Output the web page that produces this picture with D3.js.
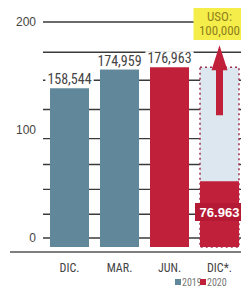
<!DOCTYPE html>
<html>
<head>
<meta charset="utf-8">
<script src="https://cdn.jsdelivr.net/npm/d3@7"></script>
<style>
  body { margin: 0; background: #fff; }
  svg { display: block; }
  text { font-family: "Liberation Sans Narrow", "Roboto Condensed", "Arial Narrow", sans-serif; }
</style>
</head>
<body>
<svg id="chart" width="241" height="292"></svg>
<script>
// data
var categories = ["DIC.", "MAR.", "JUN.", "DIC*."];
var years = ["2019", "2019", "2020", "2020"];
var values = [158.544, 174.959, 176.963, 76.963];
var valueLabels = ["158,544", "174,959", "176,963", "76.963"];
var projectedTotal = 176.963;   // dashed box in DIC*
var usedLabel = ["USO:", "100,000"];
var gridTicks = [0, 22, 45, 68, 92, 119, 146, 172, 200];
var axisLabels = [0, 100, 200];
var legendYears = ["2019", "2020"];

var colors = { "2019": "#61879b", "2020": "#c1203a" };

var svg = d3.select("#chart");
var w = 241, h = 292;
var baseY = 247;

var x = d3.scaleBand()
    .domain(categories)
    .range([45, 244])
    .paddingInner(0.22)
    .paddingOuter(0.1);

// bar scale (bars are clipped at the base line)
var y = d3.scaleLinear().domain([0, 200]).range([269, 41]);
// ruled grid scale
var g = d3.scaleLinear().domain([0, 200]).range([238, 22]);

// grid lines
svg.append("g").selectAll("line")
    .data(gridTicks)
    .enter()
    .append("line")
    .attr("x1", 43)
    .attr("x2", w)
    .attr("y1", function(d) { return g(d); })
    .attr("y2", function(d) { return g(d); })
    .attr("stroke", "#3a3a3a")
    .attr("stroke-width", 1.4);

// axis labels
svg.append("g").selectAll("text")
    .data(axisLabels)
    .enter()
    .append("text")
    .attr("x", 36)
    .attr("y", function(d) { return g(d) + 4; })
    .attr("text-anchor", "end")
    .style("font-family", "'Liberation Sans', Arial, sans-serif")
    .style("font-size", "12px")
    .attr("fill", "#444")
    .text(function(d) { return d; });

// base line
svg.append("line")
    .attr("x1", 10).attr("x2", w)
    .attr("y1", baseY + 5).attr("y2", baseY + 5)
    .attr("stroke", "#555")
    .attr("stroke-width", 1.5);

// projected (dashed) box for DIC*
var last = categories.length - 1;
svg.append("rect")
    .attr("x", x(categories[last]))
    .attr("y", y(projectedTotal))
    .attr("width", x.bandwidth())
    .attr("height", baseY - y(projectedTotal))
    .attr("fill", "#dde7ef")
    .attr("stroke", "#a0304e")
    .attr("stroke-width", 1.5)
    .attr("stroke-dasharray", "2,3");

// bars
svg.append("g").selectAll("rect")
    .data(values)
    .enter()
    .append("rect")
    .attr("x", function(d, i) { return x(categories[i]); })
    .attr("y", function(d) { return y(d); })
    .attr("width", x.bandwidth())
    .attr("height", function(d) { return baseY - y(d); })
    .attr("fill", function(d, i) { return colors[years[i]]; });

// value labels for the first three bars (white backing over grid)
var lab = svg.append("g").selectAll("g")
    .data(values.slice(0, last))
    .enter()
    .append("g");
lab.append("rect").attr("class", "bg").attr("fill", "#fff");
lab.append("text")
    .attr("x", function(d, i) { return x(categories[i]) + x.bandwidth() / 2; })
    .attr("y", function(d) { return y(d) - 4; })
    .attr("text-anchor", "middle")
    .style("font-size", "14px")
    .attr("fill", "#444")
    .text(function(d, i) { return valueLabels[i]; });
lab.each(function() {
    var t = d3.select(this).select("text").node().getBBox();
    d3.select(this).select("rect")
        .attr("x", t.x - 2).attr("y", t.y + 1)
        .attr("width", t.width + 4).attr("height", t.height - 2);
});

// remaining label inside DIC* red bar
var cx = x(categories[last]) + x.bandwidth() / 2;
svg.append("rect")
    .attr("x", x(categories[last]) - 5)
    .attr("y", 203)
    .attr("width", x.bandwidth() + 8)
    .attr("height", 18)
    .attr("fill", "#b51a34");
svg.append("text")
    .attr("x", cx)
    .attr("y", 217)
    .attr("text-anchor", "middle")
    .style("font-family", "'Liberation Sans', Arial, sans-serif")
    .style("font-size", "13px")
    .style("font-weight", "bold")
    .attr("fill", "#fff")
    .text(valueLabels[last]);

// arrow
var boxTop = y(projectedTotal);
svg.append("path")
    .attr("d", "M" + (cx - 3.5) + "," + (boxTop + 48) +
               "V" + (boxTop + 3) + "H" + (cx - 8) +
               "L" + cx + "," + (boxTop - 22) +
               "L" + (cx + 8) + "," + (boxTop + 3) +
               "H" + (cx + 3.5) + "V" + (boxTop + 48) + "Z")
    .attr("fill", colors["2020"]);

// used label
svg.append("rect")
    .attr("x", cx - 26)
    .attr("y", 8)
    .attr("width", 60)
    .attr("height", 32)
    .attr("fill", "#f5ee4a");
svg.append("g").selectAll("text")
    .data(usedLabel)
    .enter()
    .append("text")
    .attr("x", cx)
    .attr("y", function(d, i) { return 21 + i * 14; })
    .attr("text-anchor", "middle")
    .style("font-size", "13px")
    .attr("fill", "#8f7f1c")
    .text(function(d) { return d; });

// category labels
svg.append("g").selectAll("text")
    .data(categories)
    .enter()
    .append("text")
    .attr("x", function(d) { return x(d) + x.bandwidth() / 2; })
    .attr("y", 272)
    .attr("text-anchor", "middle")
    .style("font-size", "12px")
    .attr("fill", "#444")
    .text(function(d) { return d; });

// legend
var leg = svg.append("g").selectAll("g")
    .data(legendYears)
    .enter()
    .append("g")
    .attr("transform", function(d, i) { return "translate(" + (175 + i * 25) + ",279)"; });
leg.append("rect")
    .attr("width", 6).attr("height", 6)
    .attr("fill", function(d) { return colors[d]; });
leg.append("text")
    .attr("x", 7).attr("y", 6.5)
    .style("font-size", "10px")
    .attr("fill", "#777")
    .text(function(d) { return d; });
</script>
</body>
</html>
